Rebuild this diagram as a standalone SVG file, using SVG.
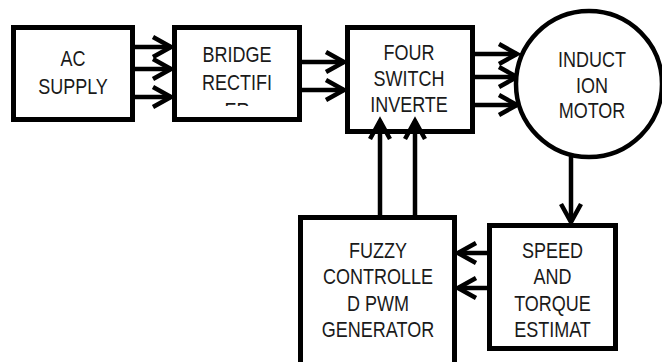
<svg xmlns="http://www.w3.org/2000/svg" width="662" height="362" viewBox="0 0 662 362">
<style>
.box{fill:#fff;stroke:#000;stroke-width:5}
.lbl{font-family:"Liberation Sans",Arial,sans-serif;font-size:22.5px;fill:#1a1a1a;text-anchor:middle}
.c{stroke:#000;stroke-width:4.5;fill:none;marker-end:url(#ah)}
</style>
<defs>
<marker id="ah" markerUnits="userSpaceOnUse" viewBox="-24 -13 28 26" refX="0" refY="0" markerWidth="28" markerHeight="26" orient="auto" overflow="visible">
<path d="M-18,-10 L0,0 L-18,10" fill="none" stroke="#000" stroke-width="4.5"/>
</marker>
<clipPath id="bclip"><rect x="175" y="30" width="125" height="76"/></clipPath>
</defs>
<rect width="662" height="362" fill="#fff"/>
<g id="connectors">
<line class="c" x1="135" y1="47" x2="171" y2="47"/>
<line class="c" x1="135" y1="69" x2="171" y2="69"/>
<line class="c" x1="135" y1="97" x2="171" y2="97"/>
<line class="c" x1="302" y1="62" x2="344" y2="62"/>
<line class="c" x1="302" y1="90" x2="344" y2="90"/>
<line class="c" x1="475" y1="54" x2="517" y2="54"/>
<line class="c" x1="475" y1="77" x2="517" y2="77"/>
<line class="c" x1="475" y1="105" x2="517" y2="105"/>
<line class="c" x1="571" y1="156" x2="571" y2="222"/>
<line class="c" x1="487" y1="253" x2="458" y2="253"/>
<line class="c" x1="487" y1="288" x2="458" y2="288"/>
</g>
<g id="ac-supply">
<rect class="box" x="13.5" y="27.5" width="119" height="92"/>
<text class="lbl" transform="translate(73,0) scale(0.8,1)"><tspan x="0" y="66">AC</tspan><tspan x="0" y="94">SUPPLY</tspan></text>
</g>
<g id="bridge-rectifier">
<rect class="box" x="174.5" y="27.5" width="125" height="92"/>
<g clip-path="url(#bclip)">
<text class="lbl" transform="translate(237,0) scale(0.8,1)"><tspan x="0" y="62">BRIDGE</tspan><tspan x="0" y="90">RECTIFI</tspan><tspan x="0" y="118">ER</tspan></text>
</g>
</g>
<g id="inverter">
<rect class="box" x="347.5" y="27.5" width="125" height="104"/>
<text class="lbl" transform="translate(409,0) scale(0.8,1)"><tspan x="0" y="60">FOUR</tspan><tspan x="0" y="86">SWITCH</tspan><tspan x="0" y="112">INVERTE</tspan></text>
</g>
<g id="motor">
<circle cx="589" cy="84" r="73" fill="#fff" stroke="#000" stroke-width="4.5"/>
<text class="lbl" transform="translate(592,0) scale(0.8,1)"><tspan x="0" y="67">INDUCT</tspan><tspan x="0" y="93">ION</tspan><tspan x="0" y="118">MOTOR</tspan></text>
</g>
<g id="fuzzy">
<rect class="box" x="300.5" y="217.5" width="154" height="160"/>
<text class="lbl" transform="translate(378,0) scale(0.8,1)"><tspan x="0" y="258">FUZZY</tspan><tspan x="0" y="284.5">CONTROLLE</tspan><tspan x="0" y="311">D PWM</tspan><tspan x="0" y="337.5">GENERATOR</tspan></text>
</g>
<g id="speed">
<rect class="box" x="489.5" y="225.5" width="126" height="123"/>
<text class="lbl" transform="translate(552.5,0) scale(0.8,1)"><tspan x="0" y="258">SPEED</tspan><tspan x="0" y="284.5">AND</tspan><tspan x="0" y="311">TORQUE</tspan><tspan x="0" y="337.5">ESTIMAT</tspan></text>
</g>
<g id="connectors-up">
<line class="c" x1="380" y1="215" x2="380" y2="121"/>
<line class="c" x1="415" y1="215" x2="415" y2="121"/>
</g>
</svg>
